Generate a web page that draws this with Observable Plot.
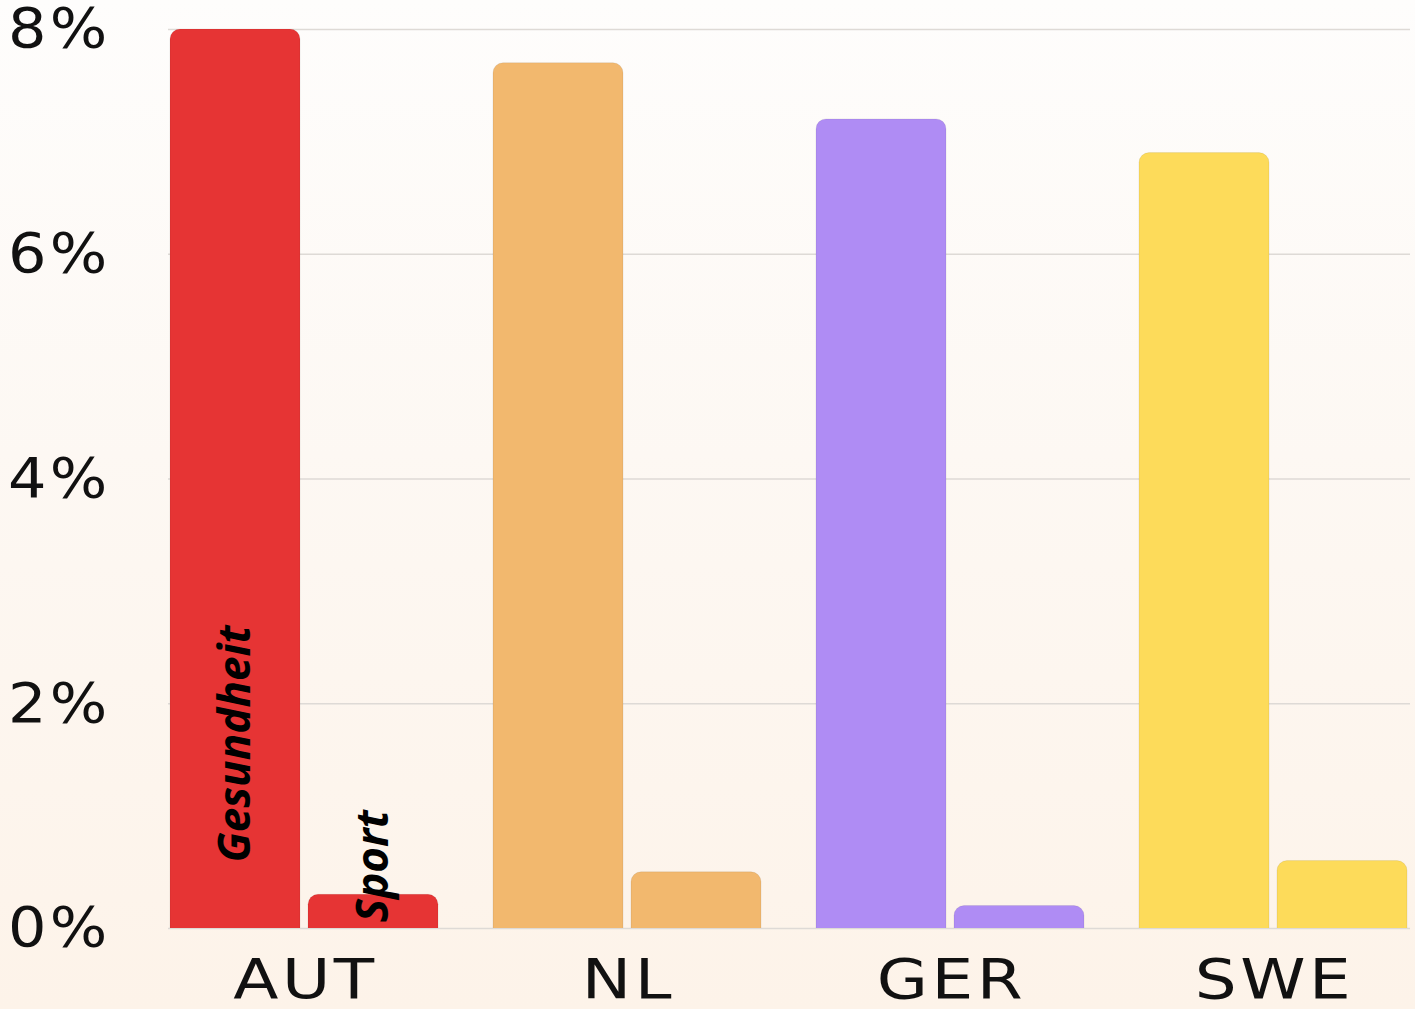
<!DOCTYPE html>
<html>
<head>
<meta charset="utf-8">
<script src="https://cdn.jsdelivr.net/npm/d3@7"></script>
<script src="https://cdn.jsdelivr.net/npm/@observablehq/plot@0.6"></script>
<style>
  html, body { margin: 0; padding: 0; }
  body { width: 1415px; height: 1009px; overflow: hidden;
         background: linear-gradient(to bottom, #fefdfc 0%, #fdf8f3 45%, #fdf3e9 100%); }
  #chart { position: relative; width: 1415px; height: 1009px; }
  #chart svg { display: block; background: transparent; position: absolute; left: 0; top: 0; }
  #chart g[aria-label="y-axis tick label"] text { letter-spacing: 3px; }
  #chart g[aria-label="fx-axis tick label"] text { letter-spacing: 3px; }
</style>
</head>
<body>
<div id="chart"></div>
<script>
const countries = ["AUT", "NL", "GER", "SWE"];
const categories = ["Gesundheit", "Sport"];
const gesundheit = [8.0, 7.7, 7.2, 6.9];
const sport = [0.3, 0.5, 0.2, 0.6];
const countryColors = ["#e63434", "#f2b86e", "#af8cf4", "#fddb5a"];
const yTicks = [0, 2, 4, 6, 8];
const labelCountry = ["AUT", "AUT"];
const labelText = ["Gesundheit", "Sport"];
const labelY = [0.56, 0.03];

const data = [];
countries.forEach((c, i) => {
  data.push({country: c, category: categories[0], value: gesundheit[i]});
  data.push({country: c, category: categories[1], value: sport[i]});
});
const labels = labelText.map((t, i) => ({country: labelCountry[i], category: t, text: t, y: labelY[i]}));

const common = {
  width: 1415,
  height: 1009,
  marginLeft: 168,
  marginRight: 5,
  marginTop: 29,
  marginBottom: 81,
  style: {background: "transparent", fontFamily: "DejaVu Sans", color: "#111"}
};

// Layer 1: grid and y axis (spanning the full frame)
const gridLayer = Plot.plot({
  ...common,
  y: {domain: [0, 8], axis: null, label: null},
  marks: [
    Plot.ruleY(yTicks, {y: d => d, stroke: "#dedad6", strokeWidth: 1.5}),
    Plot.axisY(yTicks, {
      tickSize: 0, tickPadding: 58, tickFormat: d => d + "%",
      fontSize: 56, fill: "#111", label: null
    })
  ]
});

// Layer 2: grouped bars, country labels and in-bar labels
const barLayer = Plot.plot({
  ...common,
  fx: {domain: countries, paddingInner: 0.1636, paddingOuter: 0, axis: null, label: null},
  x: {domain: categories, paddingInner: 0.057, paddingOuter: 0, axis: null, label: null},
  y: {domain: [0, 8], axis: null, label: null},
  color: {domain: countries, range: countryColors},
  marks: [
    Plot.barY(data, {
      fx: "country", x: "category", y1: -0.15, y2: "value",
      fill: "country", rx: 10, clip: "frame",
      stroke: "#000", strokeOpacity: 0.07, strokeWidth: 1
    }),
    Plot.axisFx({
      anchor: "bottom", tickSize: 0, tickPadding: 30, fontSize: 56,
      label: null, fill: "#111", dx: 1
    }),
    Plot.text(labels, {
      fx: "country", x: "category", y: "y", text: "text",
      rotate: -90, textAnchor: "start", lineAnchor: "middle",
      fontFamily: "Open Sans", fontWeight: "bold", fontStyle: "italic",
      fontSize: 44, fill: "#000", dy: -3
    })
  ]
});

const root = document.getElementById("chart");
root.appendChild(gridLayer);
root.appendChild(barLayer);

// widen the tick-label glyphs horizontally around their own anchor (after layout)
function widen(svg, selector, s, anchor) {
  const svgRect = svg.getBoundingClientRect();
  svg.querySelectorAll(selector).forEach(t => {
    const r = t.getBoundingClientRect();
    const ax = (anchor === "end" ? r.right : (r.left + r.right) / 2) - svgRect.left;
    const g = document.createElementNS("http://www.w3.org/2000/svg", "g");
    t.parentNode.insertBefore(g, t);
    g.appendChild(t);
    const m = g.getScreenCTM().inverse();
    const p = svg.createSVGPoint(); p.x = ax + svgRect.left; p.y = 0;
    const lp = p.matrixTransform(m);
    g.setAttribute("transform", `translate(${lp.x},0) scale(${s},1) translate(${-lp.x},0)`);
  });
}
widen(gridLayer, 'g[aria-label="y-axis tick label"] text', 1.08, "end");
widen(barLayer, 'g[aria-label="fx-axis tick label"] text', 1.18, "middle");
</script>
</body>
</html>
